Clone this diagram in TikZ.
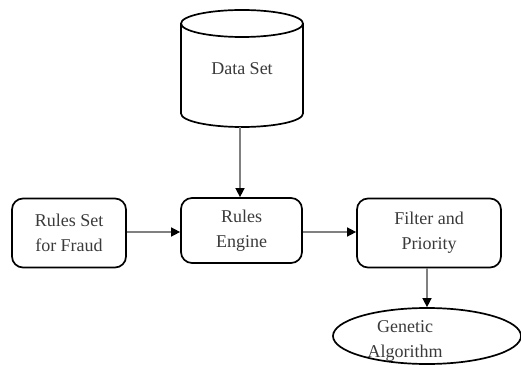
\documentclass[tikz,border=0pt]{standalone}
\usepackage{fontspec}
\setmainfont{Liberation Serif}
\usetikzlibrary{arrows.meta,shapes.geometric}
\definecolor{txt}{HTML}{3A3A3A}
\definecolor{wire}{HTML}{808080}
\begin{document}
\begin{tikzpicture}[x=1pt,y=1pt,
  every node/.style={font=\fontsize{18}{25}\selectfont, text=txt},
  procbox/.style={draw=black, line width=1.7pt, rounded corners=11pt, align=center, inner sep=0pt},
  flow/.style={draw=wire, line width=1.4pt, -{Triangle[length=9pt,width=9pt,fill=black,color=black]}},
  outline/.style={draw=black, line width=1.7pt}
]
\useasboundingbox (0,0) rectangle (521,364);

% data store drawn as a cylinder
\draw[outline, fill=white] (181,340.5) -- (181,250.5) arc[start angle=180, end angle=360, x radius=61, y radius=13.5] -- (303,340.5);
\draw[outline] (242,340.5) ellipse[x radius=61, y radius=13.5];
\node (data) at (242,295) {Data Set};
\coordinate (databot) at (240,237);

% processing boxes
\node[procbox, minimum width=114pt, minimum height=69pt] (rules) at (69,131) {Rules Set\\for Fraud};
\node[procbox, minimum width=121pt, minimum height=65pt] (engine) at (241.5,133.5) {Rules\\Engine};
\node[procbox, minimum width=144pt, minimum height=69pt] (filter) at (429,131) {Filter and\\Priority};

% optimiser
\node[outline, ellipse, minimum width=188pt, minimum height=56pt, inner sep=0pt] (ga) at (427,28) {};
\node[align=center] (gatext) at (405,23) {Genetic\\Algorithm};

% connectors
\draw[flow] (databot) -- (databot |- engine.north);
\draw[flow] (rules.east |- 0,132) -- (engine.west |- 0,132);
\draw[flow] (engine.east |- 0,132) -- (filter.west |- 0,132);
\draw[flow] (filter.south -| 427,0) -- (ga.north -| 427,0);
\end{tikzpicture}
\end{document}
